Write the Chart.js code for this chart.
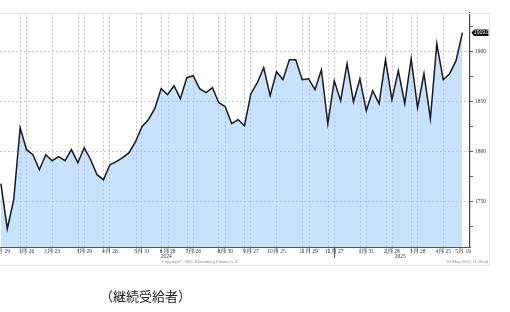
<!DOCTYPE html>
<html>
<head>
<meta charset="utf-8">
<script src="https://cdn.jsdelivr.net/npm/chart.js@4.4.1/dist/chart.umd.min.js"></script>
<style>
html, body { margin: 0; padding: 0; background: #fff; width: 510px; height: 312px; overflow: hidden; }
#wrap { position: relative; width: 510px; height: 312px; }
#chart { position: absolute; left: 0; top: 0; }
#caption { position: absolute; left: 100px; top: 288px; font: 13px "Noto Sans CJK JP", sans-serif; line-height: 15px; color: #222; white-space: nowrap; }
</style>
</head>
<body>
<div id="wrap">
  <canvas id="chart" width="510" height="312"></canvas>
  <div id="caption">（継続受給者）</div>
</div>
<script>
// weekly continuing claims (thousands), 2023-12-29 .. 2025-05
var claims = [1768, 1723, 1752, 1824, 1802, 1797, 1782, 1797, 1791, 1795, 1791, 1802, 1789,
  1804, 1792, 1777, 1772, 1787, 1790, 1794, 1799, 1810, 1825, 1832, 1843, 1863, 1857, 1866,
  1853, 1874, 1876, 1863, 1859, 1864, 1849, 1845, 1828, 1832, 1826, 1858, 1869, 1884, 1856,
  1880, 1872, 1892, 1892, 1872, 1873, 1862, 1882, 1828, 1871, 1851, 1888, 1850, 1873, 1841,
  1861, 1848, 1892, 1852, 1881, 1848, 1893, 1844, 1878, 1833, 1908, 1872, 1878, 1891, 1919];

// x tick labels (week index -> text)
var labelWeeks = [0, 4, 8, 13, 17, 22, 26, 30, 35, 39, 43, 48, 52, 57, 61, 65, 69, 72.1];
var labelTexts = ["12月 29", "1月 26", "2月 23", "3月 29", "4月 26", "5月 31", "6月 28", "7月 26",
  "8月 30", "9月 27", "10月 25", "11月 29", "12月 27", "1月 31", "2月 28", "3月 28", "4月 25", "5月 19"];
// dashed vertical grid lines (week index)
var gridWeeks = [3.09, 4, 8.08, 12.03, 13, 16.08, 17, 21.08, 22, 25.13, 26.07, 29.14, 30, 34.02, 35,
  38.08, 39, 43.07, 47.08, 48.1, 51.18, 52, 56.13, 57.07, 60.19, 61.06, 64.02, 65.02, 69.02];
var years = ["2024", "2025"];
var yearWeeks = [25.8, 62.3];
var yearBreak = 52;
var yTicks = [1725, 1750, 1775, 1800, 1825, 1850, 1875, 1900, 1925];

var labelFont = '5.5px "Liberation Serif"';

var extras = {
  id: "extras",
  afterDraw: function(chart) {
    var ctx = chart.ctx;
    var xs = chart.scales.x;
    var ys = chart.scales.y;
    var area = chart.chartArea;
    ctx.save();
    // frame
    ctx.strokeStyle = "#e4e4e4";
    ctx.lineWidth = 1;
    ctx.strokeRect(-1, 13.5, 490.5, 252);
    // x labels
    ctx.fillStyle = "#333";
    ctx.font = labelFont;
    ctx.textAlign = "center";
    ctx.textBaseline = "middle";
    for (var i = 0; i < labelWeeks.length; i++) {
      ctx.fillText(labelTexts[i], xs.getPixelForValue(labelWeeks[i]), area.bottom + 4.5);
    }
    for (var j = 0; j < years.length; j++) {
      ctx.fillText(years[j], xs.getPixelForValue(yearWeeks[j]), area.bottom + 9.5);
    }
    // year divider
    var xb = Math.round(xs.getPixelForValue(yearBreak)) + 0.5;
    ctx.strokeStyle = "#555";
    ctx.beginPath();
    ctx.moveTo(xb, area.bottom);
    ctx.lineTo(xb, area.bottom + 11);
    ctx.stroke();
    // footer
    ctx.fillStyle = "#888";
    ctx.font = '4.5px "Liberation Serif"';
    ctx.fillText("Copyright\u00a9 2025 Bloomberg Finance L.P.", 200, 262);
    ctx.textAlign = "right";
    ctx.fillText("30-May-2025 11:20:04", 488, 262);
    // last value tag
    var last = claims[claims.length - 1];
    var yl = ys.getPixelForValue(last);
    ctx.fillStyle = "#111";
    ctx.beginPath();
    ctx.moveTo(471.5, yl);
    ctx.lineTo(474, yl - 3.2);
    ctx.lineTo(488.5, yl - 3.2);
    ctx.lineTo(488.5, yl + 3.2);
    ctx.lineTo(474, yl + 3.2);
    ctx.closePath();
    ctx.fill();
    ctx.fillStyle = "#fff";
    ctx.font = '5px "Liberation Sans"';
    ctx.textAlign = "center";
    ctx.fillText(last.toFixed(1), 481.5, yl + 0.3);
    ctx.restore();
  }
};

new Chart(document.getElementById("chart"), {
  type: "line",
  data: {
    datasets: [{
      data: claims.map(function(v, i) { return { x: i, y: v }; }),
      borderColor: "#1a1a1a",
      borderWidth: 1.5,
      backgroundColor: "rgba(146, 198, 251, 0.5)",
      fill: "start",
      pointRadius: 0,
      tension: 0
    }]
  },
  options: {
    responsive: false,
    animation: false,
    layout: { padding: { left: 0, top: 13, right: 20, bottom: 46 } },
    plugins: { legend: { display: false }, tooltip: { enabled: false } },
    scales: {
      x: {
        type: "linear",
        min: -0.14,
        max: 73.18,
        afterBuildTicks: function(s) { s.ticks = gridWeeks.map(function(v) { return { value: v }; }); },
        afterFit: function(s) { s.height = 19; },
        ticks: { display: false },
        grid: { color: "#bcbcbc", lineWidth: 0.8, tickLength: 6, tickColor: "#aaa" },
        border: { display: true, color: "#555", width: 1, dash: [2, 2] }
      },
      y: {
        position: "right",
        min: 1704.7,
        max: 1938.7,
        afterBuildTicks: function(s) { s.ticks = yTicks.map(function(v) { return { value: v }; }); },
        afterFit: function(s) { s.width = 20; },
        ticks: {
          font: { size: 5.5, family: "Liberation Serif" },
          color: "#333",
          padding: 2,
          callback: function(v) { return v % 50 === 0 ? String(v) : ""; }
        },
        grid: {
          color: function(c) { return c.tick && c.tick.value % 50 === 0 ? "#bcbcbc" : "rgba(0,0,0,0)"; },
          lineWidth: 0.8,
          tickLength: 3,
          tickColor: "#333"
        },
        border: { display: true, color: "#444", width: 1.2, dash: [2, 2] }
      }
    }
  },
  plugins: [extras]
});
</script>
</body>
</html>
